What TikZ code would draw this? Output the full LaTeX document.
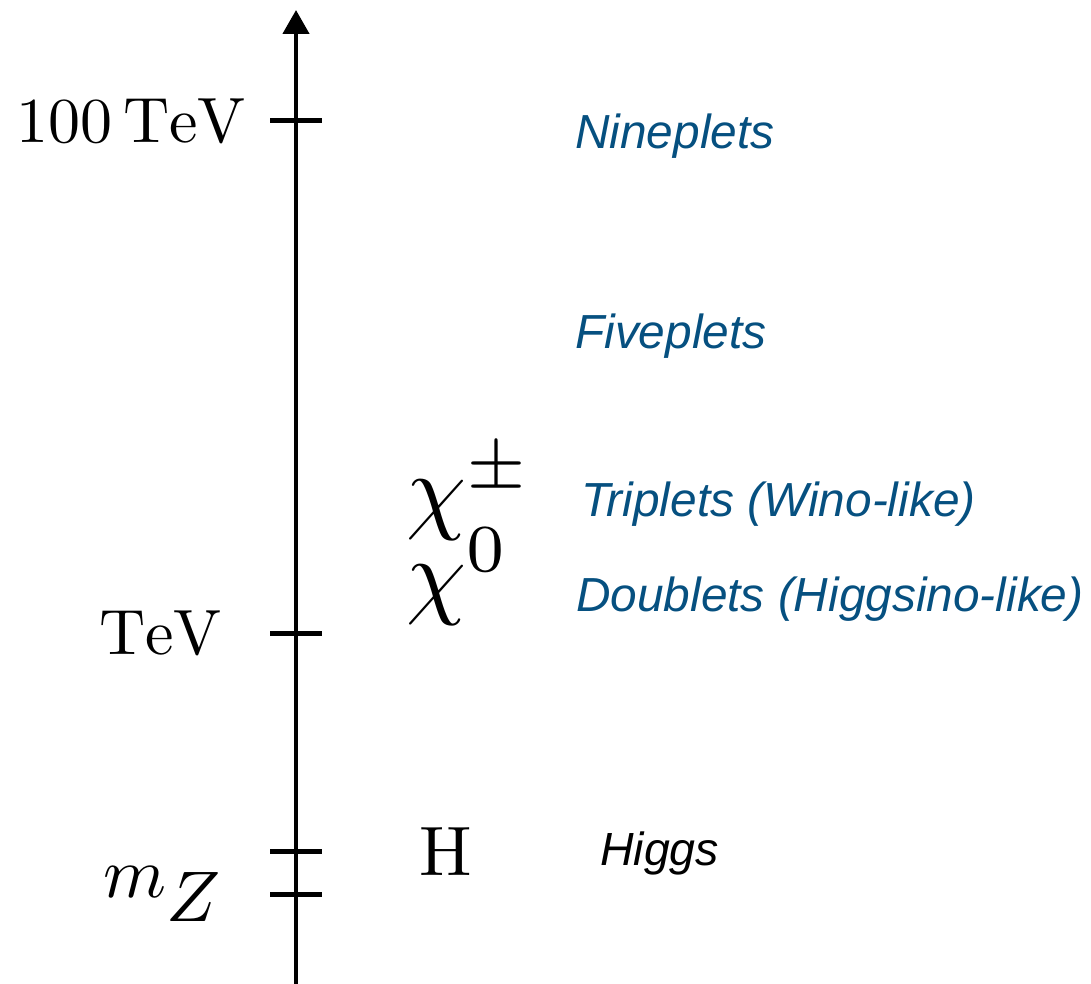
\documentclass[tikz,border=0pt]{standalone}
\usepackage{fontspec}
\newfontfamily\labelsans{Liberation Sans}
\usetikzlibrary{
    arrows.meta,
    positioning
}
\definecolor{multipletblue}{RGB}{6,80,128}
\tikzset{
  axisline/.style={
    black,
    line width=4.5pt
  },
  tickline/.style={
    black,
    line width=5pt
  },
  scalelabel/.style={
    inner sep=0pt,
    font=\fontsize{10}{12}\selectfont,
    scale=6.4
  },
  particle/.style={
    inner sep=0pt,
    font=\fontsize{10}{12}\selectfont,
    scale=9.6
  },
  higgsletter/.style={
    inner sep=0pt,
    font=\fontsize{10}{12}\selectfont,
    scale=7
  },
  multiplet/.style={
    inner sep=0pt,
    text=multipletblue,
    font=\labelsans\itshape\fontsize{47.8}{57}\selectfont
  },
  sminfo/.style={
    inner sep=0pt,
    text=black,
    font=\labelsans\itshape\fontsize{46.5}{56}\selectfont
  }
}

\begin{document}
\begin{tikzpicture}[x=1pt,y=-1pt,>={Triangle[length=24pt,width=26pt]}]
    \useasboundingbox (0,0) rectangle (1091,984);

    % energy axis
    \coordinate (axisbottom) at (296,984);
    \coordinate (axistop) at (296,10);
    \draw[axisline,->] (axisbottom) -- (axistop);

    % ticks
    \foreach \nm/\yy in {hundred/121, tev/633, higgs/851, mz/894}{
        \coordinate (\nm-l) at (270,\yy);
        \coordinate (\nm-r) at (322,\yy);
        \draw[tickline] (\nm-l) -- (\nm-r);
    }

    % scale labels
    \node[scalelabel, left=23pt of hundred-l] (hundredlabel) {$100\,\mathrm{TeV}$};
    \node[scalelabel, left=47pt of tev-l] (tevlabel) {$\mathrm{TeV}$};
    \node[scalelabel, scale=1.12, anchor=base east] (mzlabel) at (226,897) {$m_{\textstyle Z}$};

    % particles
    \node[particle, anchor=base west] (chicharged) at (405,521) {$\chi^{\pm}$};
    \node[particle, anchor=base west] (chineutral) at (405,606) {$\chi^{0}$};
    \node[higgsletter, anchor=base west] (higgsH) at (418,875) {H};

    % multiplets
    \node[multiplet, anchor=base west] (nineplets) at (575,149) {Nineplets};
    \node[multiplet, anchor=base west] (fiveplets) at (575,348) {Fiveplets};
    \node[multiplet, anchor=base west] (triplets) at (581,516) {Triplets (Wino-like)};
    \node[multiplet, anchor=base west] (doublets) at (576,611) {Doublets (Higgsino-like)};
    \node[sminfo, anchor=base west] (higgsname) at (600,865) {Higgs};
\end{tikzpicture}
\end{document}
